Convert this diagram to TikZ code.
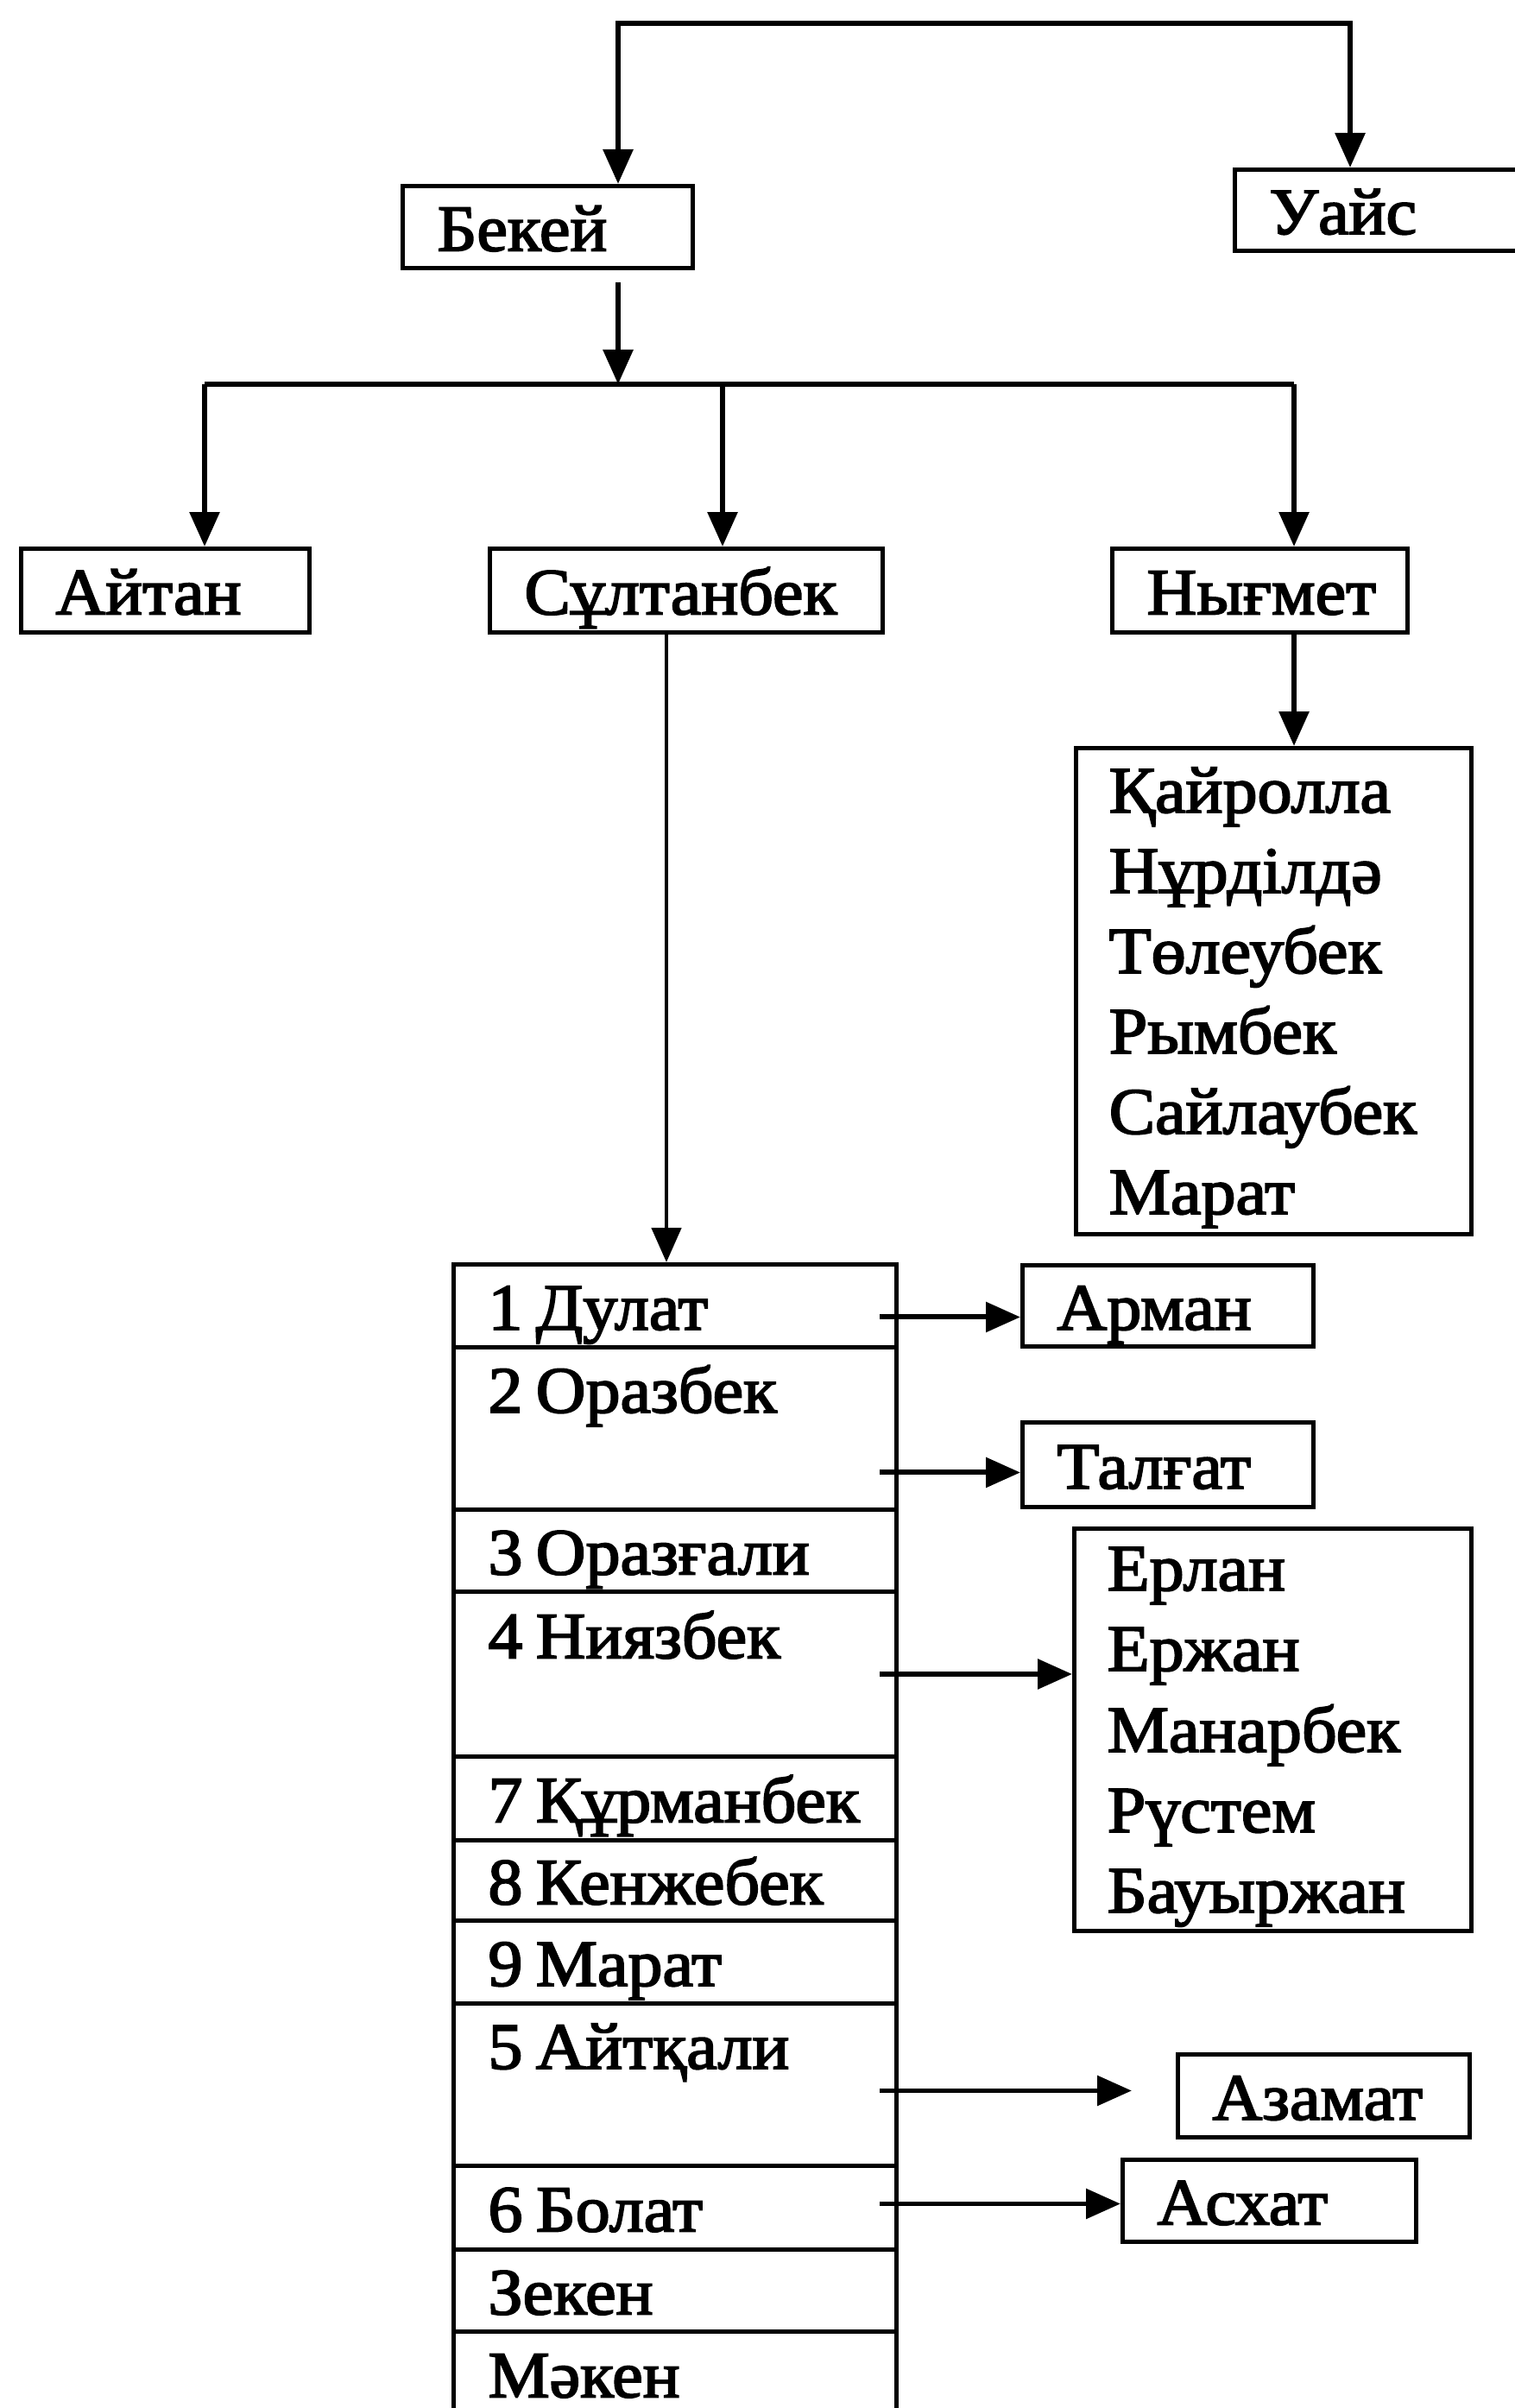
\documentclass[tikz,border=0pt]{standalone}
\usepackage{fontspec}
\setmainfont{Liberation Serif}[FakeBold=2.5, FakeStretch=1.05]
\usetikzlibrary{arrows.meta,calc}
\newcommand{\nsp}{\kern0.2em}
\tikzset{
  box/.style={draw, line width=1.4pt, rectangle, anchor=north west, inner xsep=0.4cm, inner ysep=0pt, align=left, text height=0.65cm, text depth=0.1cm, font=\fontsize{21.7pt}{26pt}\selectfont},
  tallrow/.style={box, text depth=1.02cm},
  plainbox/.style={draw, line width=1.4pt, rectangle, anchor=north west, inner sep=0pt},
  txt/.style={anchor=base west, inner sep=0pt, font=\fontsize{21.7pt}{26pt}\selectfont},
  arr/.style={line width=1.7pt, -{Triangle[length=0.4cm, width=0.34cm]}},
  link/.style={line width=1.7pt}
}
\begin{document}
\begin{tikzpicture}
\useasboundingbox (0,0) rectangle (17.54,-27.89);
% top level
\node[box, text width=2.56cm, minimum height=0.95cm] (bekei) at (4.64,-2.13) {Бекей};
\node[box, text width=2.80cm, minimum height=0.94cm] (uais) at (14.28,-1.94) {Уайс};
\coordinate (topL) at (7.16,-0.27);
\coordinate (topR) at (15.64,-0.27);
\draw[line width=1.7pt, {Triangle[length=0.4cm, width=0.34cm]}-{Triangle[length=0.4cm, width=0.34cm]}]
  (topL |- bekei.north) -- (topL) -- (topR) -- (topR |- uais.north);
% second level
\node[box, text width=2.54cm, minimum height=0.97cm] (aitan) at (0.22,-6.33) {Айтан};
\node[box, text width=3.75cm, minimum height=0.97cm] (sultan) at (5.65,-6.33) {Сұлтанбек};
\node[box, text width=2.62cm, minimum height=0.97cm] (nygmet) at (12.86,-6.33) {Нығмет};
\coordinate (bekeiout) at (7.16,-3.27);
\coordinate (busC) at (7.16,-4.45);
\coordinate (busL) at (2.37,-4.45);
\coordinate (busM) at (8.37,-4.45);
\coordinate (busR) at (14.99,-4.45);
\draw[arr] (bekeiout) -- (busC);
\draw[link] (busL) -- (busR);
\draw[arr] (busL) -- (busL |- aitan.north);
\draw[arr] (busM) -- (busM |- sultan.north);
\draw[arr] (busR) -- (busR |- nygmet.north);
% Nygmet's children
\node[plainbox, minimum width=4.58cm, minimum height=5.63cm] (nkids) at (12.44,-8.64) {};
\draw[arr] (busR |- nygmet.south) -- (busR |- nkids.north);
\node[txt] (nk1) at (12.84,-9.41) {Қайролла};
\node[txt] (nk2) at (12.84,-10.34) {Нұрділдә};
\node[txt] (nk3) at (12.84,-11.27) {Төлеубек};
\node[txt] (nk4) at (12.84,-12.20) {Рымбек};
\node[txt] (nk5) at (12.84,-13.13) {Сайлаубек};
\node[txt] (nk6) at (12.84,-14.06) {Марат};
% Sultanbek's sons
\node[box, text width=4.33cm, minimum height=0.96cm] (r1) at (5.23,-14.62) {\mbox{1\nsp Дулат}};
\node[tallrow, text width=4.33cm, minimum height=1.88cm] (r2) at (5.23,-15.58) {\mbox{2\nsp Оразбек}};
\node[box, text width=4.33cm, minimum height=0.95cm] (r3) at (5.23,-17.46) {\mbox{3\nsp Оразғали}};
\node[tallrow, text width=4.33cm, minimum height=1.91cm] (r4) at (5.23,-18.41) {\mbox{4\nsp Ниязбек}};
\node[box, text width=4.33cm, minimum height=0.97cm] (r7) at (5.23,-20.32) {\mbox{7\nsp Құрманбек}};
\node[box, text width=4.33cm, minimum height=0.93cm] (r8) at (5.23,-21.29) {\mbox{8\nsp Кенжебек}};
\node[box, text width=4.33cm, minimum height=0.96cm] (r9) at (5.23,-22.22) {\mbox{9\nsp Марат}};
\node[tallrow, text width=4.33cm, minimum height=1.88cm] (r5) at (5.23,-23.18) {\mbox{5\nsp Айтқали}};
\node[box, text width=4.33cm, minimum height=0.97cm] (r6) at (5.23,-25.06) {\mbox{6\nsp Болат}};
\node[box, text width=4.33cm, minimum height=0.95cm] (rz) at (5.23,-26.03) {Зекен};
\node[box, text width=4.33cm, minimum height=0.97cm] (rm) at (5.23,-26.98) {Мәкен};
\coordinate (sd) at ($(sultan.south west)+(2.07,0)$);
\draw[line width=1.4pt, -{Triangle[length=0.4cm, width=0.34cm]}] (sd) -- (sd |- r1.north);
% grandchildren
\node[box, text width=2.57cm, minimum height=0.94cm] (arman) at (11.82,-14.63) {Арман};
\node[box, text width=2.57cm, minimum height=0.98cm] (talgat) at (11.82,-16.45) {Талғат};
\node[plainbox, minimum width=4.60cm, minimum height=4.66cm] (skids) at (12.42,-17.68) {};
\node[txt] (sk1) at (12.82,-18.42) {Ерлан};
\node[txt] (sk2) at (12.82,-19.35) {Ержан};
\node[txt] (sk3) at (12.82,-20.29) {Манарбек};
\node[txt] (sk4) at (12.82,-21.22) {Рүстем};
\node[txt] (sk5) at (12.82,-22.15) {Бауыржан};
\node[box, text width=2.58cm, minimum height=0.96cm] (azamat) at (13.62,-23.77) {Азамат};
\node[box, text width=2.60cm, minimum height=0.95cm] (askhat) at (12.98,-24.99) {Асхат};
\coordinate (a1) at ($(r1.east)+(-0.22,-0.13)$);
\coordinate (a2) at ($(r2.east)+(-0.22,-0.51)$);
\coordinate (a4) at ($(r4.east)+(-0.22,0)$);
\coordinate (a5) at ($(r5.east)+(-0.22,-0.07)$);
\coordinate (a6) at ($(r6.east)+(-0.22,0.045)$);
\coordinate (a5end) at ($(a5 -| azamat.west)+(-0.51,0)$);
\draw[arr] (a1) -- (a1 -| arman.west);
\draw[arr] (a2) -- (a2 -| talgat.west);
\draw[arr] (a4) -- (a4 -| skids.west);
\draw[arr] (a5) -- (a5end);
\draw[arr] (a6) -- (a6 -| askhat.west);
\end{tikzpicture}
\end{document}
